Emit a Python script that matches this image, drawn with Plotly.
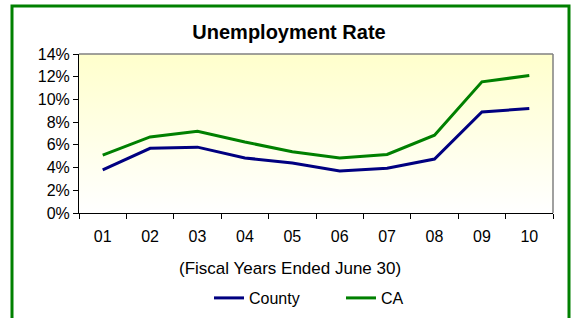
import plotly.graph_objects as go

years = ["01", "02", "03", "04", "05", "06", "07", "08", "09", "10"]
county = [3.8, 5.7, 5.8, 4.85, 4.4, 3.7, 3.95, 4.75, 8.9, 9.2]
ca = [5.1, 6.7, 7.2, 6.25, 5.4, 4.85, 5.15, 6.85, 11.55, 12.1]
y_ticks = [0, 2, 4, 6, 8, 10, 12, 14]

idx = list(range(len(years)))
FONT = "Arial, Liberation Sans, sans-serif"

fig = go.Figure()
# gradient plot background
fig.add_trace(go.Scatter(
    x=[-0.5, 9.5, 9.5, -0.5, -0.5], y=[0, 0, 14, 14, 0],
    mode="lines", line=dict(width=0), fill="toself",
    fillgradient=dict(type="vertical",
                      colorscale=[[0, "#FFFFFF"], [1, "#FFFFCC"]]),
    hoverinfo="skip", showlegend=False))
fig.add_trace(go.Scatter(x=idx, y=county, name="County", mode="lines",
                         line=dict(color="#000080", width=3)))
fig.add_trace(go.Scatter(x=idx, y=ca, name="CA", mode="lines",
                         line=dict(color="#008000", width=3)))

L, R, T, B = 79, 21, 54, 105
W, H = 574, 318
pw, ph = W - L - R, H - T - B

fig.update_layout(
    width=W, height=H,
    margin=dict(l=L, r=R, t=T, b=B, autoexpand=False),
    paper_bgcolor="white", plot_bgcolor="white",
    font=dict(family=FONT, size=16, color="black"),
    title=dict(text="<b>Unemployment Rate</b>", x=289 / W, xanchor="center",
               y=1 - 32 / H, yanchor="middle", yref="container",
               font=dict(size=20, family=FONT, color="black")),
    showlegend=True,
    legend=dict(orientation="h", x=(209 - L) / pw, xanchor="left",
                y=(T + ph - 298) / ph, yanchor="middle",
                entrywidth=87, font=dict(size=16),
                bgcolor="rgba(0,0,0,0)"),
    xaxis=dict(range=[-0.5, 9.5], tickmode="array", tickvals=idx,
               ticktext=years, ticks="", showgrid=False, zeroline=False,
               showline=True, linecolor="black", linewidth=1,
               automargin=False, ticklabelstandoff=9,
               minor=dict(tick0=-0.5, dtick=1, ticks="outside", ticklen=5,
                          tickcolor="black", showgrid=False),
               tickfont=dict(size=16)),
    yaxis=dict(range=[0, 14], tickmode="array", tickvals=y_ticks,
               ticktext=[f"{v}%" for v in y_ticks], ticks="outside",
               ticklen=5, tickcolor="black", showgrid=False, zeroline=False,
               showline=True, linecolor="black", linewidth=1,
               automargin=False, tickfont=dict(size=16)),
    shapes=[
        dict(type="line", xref="paper", yref="paper", x0=0, x1=1, y0=1, y1=1,
             line=dict(color="#808080", width=1.5)),
        dict(type="line", xref="paper", yref="paper", x0=1, x1=1, y0=0, y1=1,
             line=dict(color="#808080", width=1.5)),
        dict(type="rect", xref="paper", yref="paper",
             x0=(12 - L) / pw, x1=(569 - L) / pw,
             y0=(T + ph - 330) / ph, y1=(T + ph - 6) / ph,
             line=dict(color="#008000", width=3)),
    ],
    annotations=[dict(text="(Fiscal Years Ended June 30)", xref="paper",
                      yref="paper", x=(290 - L) / pw,
                      y=(T + ph - 268) / ph,
                      xanchor="center", yanchor="middle", showarrow=False,
                      font=dict(size=17))],
)

fig.write_html("out.html", config={"displayModeBar": False},
               post_script="document.body.style.margin='0';")
